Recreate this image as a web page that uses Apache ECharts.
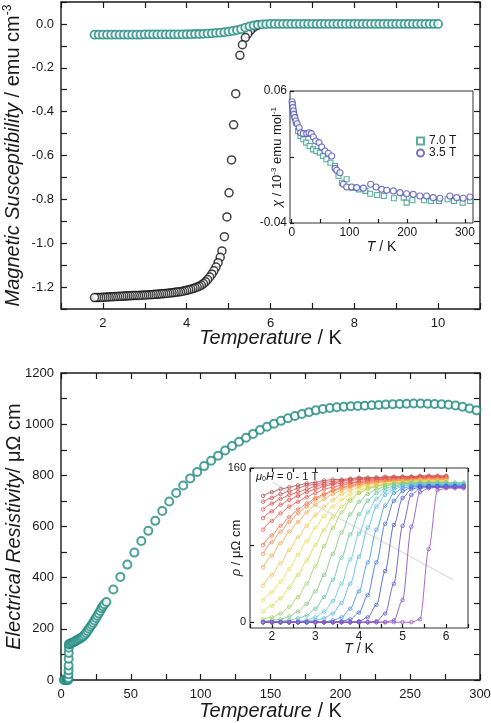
<!DOCTYPE html>
<html>
<head>
<meta charset="utf-8">
<script src="https://cdn.jsdelivr.net/npm/echarts@6/dist/echarts.min.js"></script>
<style>
  html, body { margin: 0; padding: 0; background: #fff; }
  #chart { width: 491px; height: 723px; }
</style>
</head>
<body>
<div id="chart"></div>
<script>
// 上图：磁化率 (emu cm^-3)
const susTempBlack = [1.80,1.85,1.90,1.95,2.00,2.05,2.10,2.15,2.20,2.25,2.30,2.35,2.40,2.45,2.50,2.55,2.60,2.65,2.70,2.75,
  2.80,2.85,2.90,2.95,3.00,3.05,3.10,3.15,3.20,3.25,3.30,3.35,3.40,3.45,3.50,3.55,3.60,3.65,3.70,3.75,
  3.80,3.85,3.90,3.95,4.00,4.05,4.10,4.15,4.20,4.25,4.30,4.35,4.40,4.45,4.50,4.55,4.60,4.65,4.70,4.75,
  4.80,4.84,4.90,4.96,5.01,5.07,5.12,5.17,5.27,5.33,5.40,5.46,5.52,5.58,5.64,5.70];
const susBlack = [-1.248,-1.248,-1.247,-1.247,-1.246,-1.246,-1.245,-1.245,-1.244,-1.244,
  -1.243,-1.243,-1.242,-1.242,-1.241,-1.241,-1.240,-1.240,-1.239,-1.239,
  -1.238,-1.238,-1.237,-1.237,-1.236,-1.236,-1.235,-1.235,-1.234,-1.233,
  -1.233,-1.232,-1.231,-1.230,-1.229,-1.228,-1.227,-1.226,-1.225,-1.223,
  -1.222,-1.221,-1.219,-1.217,-1.215,-1.212,-1.210,-1.207,-1.204,-1.200,
  -1.196,-1.191,-1.184,-1.176,-1.166,-1.154,-1.141,-1.126,-1.109,-1.089,
  -1.064,-1.035,-0.970,-0.880,-0.770,-0.620,-0.460,-0.318,-0.143,-0.095,-0.062,-0.045,-0.030,-0.018,-0.010,-0.005];
const susTempTeal = [1.8,1.9,2.0,2.1,2.2,2.3,2.4,2.5,2.6,2.7,2.8,2.9,3.0,3.1,3.2,3.3,3.4,3.5,3.6,3.7,3.8,3.9,
  4.0,4.1,4.2,4.3,4.4,4.5,4.6,4.7,4.8,4.9,5.0,5.1,5.2,5.3,5.4,5.5,5.6,5.7,5.8,5.9,
  6.0,6.1,6.2,6.3,6.4,6.5,6.6,6.7,6.8,6.9,7.0,7.1,7.2,7.3,7.4,7.5,7.6,7.7,7.8,7.9,
  8.0,8.1,8.2,8.3,8.4,8.5,8.6,8.7,8.8,8.9,9.0,9.1,9.2,9.3,9.4,9.5,9.6,9.7,9.8,9.9,10.0];
const susTeal = [-0.049,-0.049,-0.049,-0.049,-0.049,-0.049,-0.049,-0.049,-0.049,-0.049,-0.049,-0.049,
  -0.048,-0.048,-0.048,-0.048,-0.048,-0.048,-0.048,-0.048,-0.048,-0.048,
  -0.047,-0.047,-0.046,-0.046,-0.045,-0.044,-0.043,-0.041,-0.040,-0.038,
  -0.035,-0.032,-0.028,-0.024,-0.017,-0.011,-0.007,-0.004,-0.002,-0.001,
  0,0,0,0,0,0,0,0,0,0,0,0,0,0,0,0,0,0,0,0,0,0,0,0,0,0,0,0,0,0,0,0,0,0,0,0,0,0,0,0,0];

// 上图插图：χ-T
const chiTemp35 = [0.6,1.2,2.0,2.9,3.7,5.4,7.2,9.5,12.9,15.3,19.9,26,30,34,37.5,41.5,47.3,52,57.6,63.4,
  69.2,75,77.9,83.6,89.4,95.2,103.8,112.5,124,136.7,146,155.8,164.5,176,187.5,199,210.5,222,233.6,245,
  256.7,274,285.7,297,308.6];
const chi35 = [0.0519,0.0499,0.0474,0.0448,0.0423,0.0398,0.0373,0.0352,0.0322,0.0284,0.0277,0.0277,0.0284,0.0277,0.0252,
  0.0221,0.0209,0.0176,0.0145,0.0128,0.0108,0.0014,0.0,-0.0019,-0.0107,-0.0127,-0.0127,-0.0132,-0.0136,-0.0107,
  -0.0127,-0.0145,-0.0152,-0.0157,-0.017,-0.0178,-0.0183,-0.0195,-0.0195,-0.0208,-0.0213,-0.0195,-0.0208,-0.0213,-0.0203];
const chiTemp70 = [0.6,1.2,2.9,5.4,7.2,11,15,20,25,31,37,42.5,48.6,54.4,60,67,75,81,87,95,
  104,116,127.5,136,148,159.5,177,194,199,209,229,241,255,270,281,296,309];
const chi70 = [0.0486,0.0455,0.0436,0.0398,0.036,0.0297,0.0259,0.0234,0.0209,0.0183,0.0158,0.0145,0.0133,0.0108,0.0083,
  0.0057,0.0032,-0.0044,-0.0095,-0.0069,-0.0132,-0.0145,-0.0157,-0.0178,-0.0188,-0.0195,-0.0213,-0.0208,-0.0246,-0.0228,
  -0.0228,-0.0233,-0.0233,-0.022,-0.0233,-0.0246,-0.0233];

// 下图：电阻率 (μΩ cm)
const resTemp = [2,3,4,4.5,5.0,5.2,5.30,5.35,5.40,5.45,5.50,5.55,5.60,5.70,
  6,7,8,9,10,11,12,13,14,15,16,17,18,19,20,21,22,23,24,25,26,27,28,29,30,31,32.5,
  37.5,42.5,47.5,52.5,57.5,62.5,67.5,72.5,77.5,82.5,87.5,92.5,97.5,102.5,107.5,112.5,117.5,122.5,127.5,132.5,
  137.5,142.5,147.5,152.5,157.5,162.5,167.5,172.5,177.5,182.5,187.5,192.5,197.5,202.5,207.5,212.5,217.5,222.5,
  227.5,232.5,237.5,242.5,247.5,252.5,257.5,262.5,267.5,272.5,277.5,282.5,287.5,292.5,297.5];
const resVal = [0,0,0,0,0,2,8,22,38,57,83,106,126,139,
  141,143,146,148,151,154,157,160,163,167,171,177,184,192,200,208,216,224,233,242,251,260,270,280,288,296,305,
  354,403,451,498,543,583,622,661,698,731,760,788,813,836,857,877,897,915,931,947,
  962,977,990,1002,1013,1023,1032,1040,1047,1054,1059,1063,1066,1068,1070,1071,1072,1074,
  1075,1077,1078,1079,1080,1081,1081,1080,1079,1078,1076,1073,1068,1061,1054];

// 下图插图：ρ-T，0 - 1 T
const rhoTemp = [1.8,2.0,2.2,2.4,2.6,2.8,3.0,3.2,3.4,3.6,3.8,4.0,4.2,4.4,4.6,4.8,5.0,5.2,5.4,5.6,5.8,6.0,6.2,6.4];
const rhoCurves = [
  [0,0,0,0,0,0,0,0,0,0,0,0,0,0,0,0,0,0,3,76,137,139,139,139],
  [0,0,0,0,0,0,0,0,0,0,0,0,0,0,0,2,23,99,135,139,140,140,140,140],
  [0,0,0,0,0,0,0,0,0,0,0,0,0,1,9,40,100,132,139,140,140,140,140,140],
  [0,0,0,0,0,0,0,0,0,0,0,1,5,18,53,101,129,138,140,141,141,141,141,141],
  [0,0,0,0,0,0,0,0,0,1,3,10,28,62,102,126,136,140,141,141,141,141,141,141],
  [0,0,0,0,0,0,0,0,2,5,14,32,62,96,121,134,139,141,142,142,142,142,142,142],
  [0,0,0,0,0,1,2,4,9,20,40,68,98,120,132,138,141,142,143,143,143,143,143,143],
  [0,0,0,0,1,2,5,11,22,40,65,92,114,128,136,140,142,143,143,143,143,143,143,143],
  [0,0,1,2,4,7,14,26,44,67,91,112,126,134,139,141,143,144,144,144,144,144,144,144],
  [1,2,3,6,11,19,32,49,71,93,112,125,133,138,141,143,144,144,145,145,145,145,145,145],
  [3,5,9,16,26,40,58,79,98,114,126,134,139,141,143,144,145,145,145,145,145,145],
  [11,17,25,36,49,64,80,96,109,120,128,134,138,141,142,144,144,145,146,146,146,146],
  [23,31,42,55,70,84,98,110,120,127,133,137,140,142,143,144,145,145,146,146,146,146],
  [38,49,61,75,88,100,111,120,127,133,137,140,142,143,144,145,146,146,147,147,147,147],
  [57,69,82,94,104,114,122,128,133,137,140,142,144,145,146,146,147,147,148,148,148,148],
  [71,83,94,104,113,120,127,132,136,139,141,143,144,145,146,147,147,147,148,148,148,148],
  [80,90,100,109,117,123,129,133,137,140,142,144,145,146,147,147,148,148,149,149,149,149],
  [96,105,113,120,125,130,134,138,140,142,144,145,146,147,148,148,149,149,149,150,150,150],
  [108,115,122,127,131,135,138,141,143,144,145,146,147,148,148,149,149,150,150,150,150,150],
  [117,123,128,132,135,138,141,143,144,146,147,148,148,149,149,150,150,150,150,151,151,151],
  [125,129,133,136,139,142,143,145,146,147,148,149,149,150,150,150,151,151,151,151,151,151],
  [131,135,138,140,142,144,145,147,148,148,149,150,150,150,151,151,151,151,152,152,152,152]
];
const rhoColors = ['#a058c8','#8258c8','#6458c8','#4c5ccc','#4474d8','#4c98e2','#5cb8e8','#66c8d2','#6cc6a4','#84c882','#aad266',
  '#d2de58','#f2dc58','#f6c656','#f6aa54','#f48e52','#f27450','#ee5e50','#e65252','#dc5454','#cc5656','#b25454'];
const guideLine = [[2.03, 145], [6.16, 44]];

const FONT = '"Liberation Sans", Arial, Helvetica, sans-serif';
const INK = '#1a1a1a';
const TEAL = '#1f8a80';

const chart = echarts.init(document.getElementById('chart'));

function pairs(xs, ys) {
  return ys.map((y, i) => [xs[i], y]);
}

const tick = (len) => ({ inside: true, length: len, lineStyle: { color: INK, width: 1.2 } });
const noLine = { show: false, onZero: false };
const noSplit = { show: false };
const lbl = (size, margin, extra) => Object.assign({ fontSize: size, margin, color: INK, fontFamily: FONT }, extra);
const nameStyle = (size) => ({
  fontSize: size, color: INK, fontFamily: FONT,
  rich: {
    i: { fontStyle: 'italic', fontSize: size, fontFamily: FONT, color: INK },
    s: { fontSize: Math.round(size * 0.6), fontFamily: FONT, color: INK, padding: [0, 0, Math.round(size * 0.5), 0] }
  }
});
// 轴名称位置固定，不随标签自动挪开
const axisName = (text, gap, size) => ({
  name: text, nameLocation: 'middle', nameGap: gap, nameMoveOverlap: false, nameTextStyle: nameStyle(size)
});

const series = [];
series.push({
  type: 'scatter', xAxisIndex: 0, yAxisIndex: 0, z: 2,
  data: pairs(susTempBlack, susBlack).reverse(),
  symbol: 'circle', symbolSize: 8,
  itemStyle: { color: '#fff', borderColor: '#111', borderWidth: 1.5 }
});
series.push({
  type: 'scatter', xAxisIndex: 0, yAxisIndex: 0, z: 3,
  data: pairs(susTempTeal, susTeal),
  symbol: 'circle', symbolSize: 8,
  itemStyle: { color: '#fff', borderColor: TEAL, borderWidth: 1.8 }
});
series.push({
  name: '7.0 T', type: 'scatter', xAxisIndex: 2, yAxisIndex: 2, z: 12,
  data: pairs(chiTemp70, chi70),
  symbol: 'rect', symbolSize: 5,
  itemStyle: { color: '#fff', borderColor: '#2f9a86', borderWidth: 1.1 }
});
series.push({
  name: '3.5 T', type: 'scatter', xAxisIndex: 2, yAxisIndex: 2, z: 12,
  data: pairs(chiTemp35, chi35),
  symbol: 'circle', symbolSize: 6,
  itemStyle: { color: '#fff', borderColor: '#5252b4', borderWidth: 1.1 }
});
series.push({
  type: 'scatter', xAxisIndex: 3, yAxisIndex: 3, z: 2,
  data: pairs(resTemp, resVal),
  symbol: 'circle', symbolSize: 8,
  itemStyle: { color: '#fff', borderColor: TEAL, borderWidth: 2 }
});
series.push({
  type: 'line', xAxisIndex: 5, yAxisIndex: 5, z: 11, silent: true,
  data: guideLine, symbol: 'none',
  lineStyle: { color: '#dcdcdc', width: 1.2 }
});
for (let k = rhoCurves.length - 1; k >= 0; k--) {
  const c = rhoColors[k];
  series.push({
    type: 'line', xAxisIndex: 5, yAxisIndex: 5, z: 12, silent: true,
    data: pairs(rhoTemp, rhoCurves[k]),
    smooth: 0.3, smoothMonotone: 'x',
    symbol: 'circle', symbolSize: 3.5, showSymbol: true,
    itemStyle: { color: 'transparent', borderColor: c, borderWidth: 0.8 },
    lineStyle: { color: c, width: 0.9 }
  });
}

const option = {
  animation: false,
  backgroundColor: '#fff',
  grid: [
    { left: 61, top: 2, width: 419, height: 307, show: true, borderColor: INK, borderWidth: 1.4, backgroundColor: 'transparent', containLabel: false, outerBoundsMode: 'none' },
    { left: 290, top: 91, width: 183, height: 132, show: true, borderColor: '#333', borderWidth: 1, backgroundColor: '#fff', z: 10, containLabel: false, outerBoundsMode: 'none' },
    { left: 61, top: 373, width: 419, height: 307, show: true, borderColor: INK, borderWidth: 1.4, backgroundColor: 'transparent', containLabel: false, outerBoundsMode: 'none' },
    { left: 250, top: 468, width: 218, height: 160, show: true, borderColor: '#333', borderWidth: 1, backgroundColor: '#fff', z: 10, containLabel: false, outerBoundsMode: 'none' }
  ],
  xAxis: [
    Object.assign({ type: 'value', gridIndex: 0, min: 1, max: 11, interval: 1, position: 'bottom',
      axisLine: noLine, splitLine: noSplit, axisTick: tick(6),
      axisLabel: lbl(13, 8, { interval: 0, formatter: v => (v % 2 === 0 ? String(v) : '') }) },
      axisName('{i|Temperature} / K', 19, 20)),
    { type: 'value', gridIndex: 0, min: 1, max: 11, interval: 1, position: 'top',
      axisLine: noLine, splitLine: noSplit, axisTick: tick(6), axisLabel: { show: false } },
    Object.assign({ type: 'value', gridIndex: 1, min: -3, max: 314, position: 'bottom', z: 11,
      axisLine: noLine, splitLine: noSplit,
      axisTick: Object.assign(tick(4), { customValues: [0, 50, 100, 150, 200, 250, 300] }),
      axisLabel: lbl(12, 4, { customValues: [0, 100, 200, 300] }) },
      axisName('{i|T} / K', 17, 14)),
    Object.assign({ type: 'value', gridIndex: 2, min: 0, max: 300, interval: 25, position: 'bottom',
      axisLine: noLine, splitLine: noSplit, axisTick: tick(6),
      axisLabel: lbl(13, 8, { interval: 0, formatter: v => (v % 50 === 0 ? String(v) : '') }) },
      axisName('{i|Temperature} / K', 21, 20)),
    { type: 'value', gridIndex: 2, min: 0, max: 300, interval: 25, position: 'top',
      axisLine: noLine, splitLine: noSplit, axisTick: tick(6), axisLabel: { show: false } },
    Object.assign({ type: 'value', gridIndex: 3, min: 1.5, max: 6.5, interval: 0.5, position: 'bottom', z: 11,
      axisLine: noLine, splitLine: noSplit, axisTick: tick(4),
      axisLabel: lbl(12, 3, { interval: 0, formatter: v => (Math.abs(v - Math.round(v)) < 1e-6 && v < 6.4 ? String(Math.round(v)) : '') }) },
      axisName('{i|T} / K', 14, 14)),
    { type: 'value', gridIndex: 3, min: 1.5, max: 6.5, interval: 0.5, position: 'top', z: 11,
      axisLine: noLine, splitLine: noSplit, axisTick: tick(4), axisLabel: { show: false } }
  ],
  yAxis: [
    Object.assign({ type: 'value', gridIndex: 0, min: -1.3, max: 0.1, interval: 0.1, position: 'left',
      axisLine: noLine, splitLine: noSplit, axisTick: tick(6),
      axisLabel: lbl(13, 7, { interval: 0, formatter: v => { const r = Math.round(v * 10); return r % 2 === 0 ? (r / 10).toFixed(1) : ''; } }) },
      axisName('{i|Magnetic Susceptibility} / emu cm{s|-3}', 37, 20)),
    { type: 'value', gridIndex: 0, min: -1.3, max: 0.1, interval: 0.1, position: 'right',
      axisLine: noLine, splitLine: noSplit, axisTick: tick(6), axisLabel: { show: false } },
    Object.assign({ type: 'value', gridIndex: 1, min: -0.04, max: 0.06, position: 'left', z: 11,
      axisLine: noLine, splitLine: noSplit,
      axisTick: Object.assign(tick(4), { customValues: [-0.04, 0.01, 0.06] }),
      axisLabel: lbl(12, 3, { customValues: [-0.04, 0.06], formatter: v => v.toFixed(2) }) },
      axisName('{i|χ} / 10{s|-3} emu mol{s|-1}', 5, 13)),
    Object.assign({ type: 'value', gridIndex: 2, min: 0, max: 1200, interval: 100, position: 'left',
      axisLine: noLine, splitLine: noSplit, axisTick: tick(6),
      axisLabel: lbl(13, 7, { interval: 0, formatter: v => (v % 200 === 0 ? String(v) : '') }) },
      axisName('{i|Electrical Resistivity}/ μΩ cm', 37, 20)),
    { type: 'value', gridIndex: 2, min: 0, max: 1200, interval: 100, position: 'right',
      axisLine: noLine, splitLine: noSplit, axisTick: tick(6), axisLabel: { show: false } },
    Object.assign({ type: 'value', gridIndex: 3, min: -6, max: 160, position: 'left', z: 11,
      axisLine: noLine, splitLine: noSplit,
      axisTick: Object.assign(tick(4), { customValues: [0, 80, 160] }),
      axisLabel: lbl(11, 4, { customValues: [0, 160] }) },
      axisName('{i|ρ} / μΩ cm', 7, 13))
  ],
  legend: {
    data: ['7.0 T', '3.5 T'], orient: 'vertical', left: 411, top: 130, z: 20,
    itemWidth: 7, itemHeight: 7, itemGap: 0,
    textStyle: { fontSize: 12, lineHeight: 11, color: INK, fontFamily: FONT }
  },
  graphic: [
    { type: 'text', left: 256, top: 471, z: 30,
      style: {
        text: '{i|μ}{sub|0}{i|H} = 0 - 1 T', fill: INK, font: '11px ' + FONT,
        rich: {
          i: { fontStyle: 'italic', fontSize: 11, fontFamily: FONT, fill: INK },
          sub: { fontSize: 7, fontFamily: FONT, fill: INK, padding: [6, 0, 0, 0] }
        }
      } }
  ],
  series
};

chart.setOption(option);
</script>
</body>
</html>
